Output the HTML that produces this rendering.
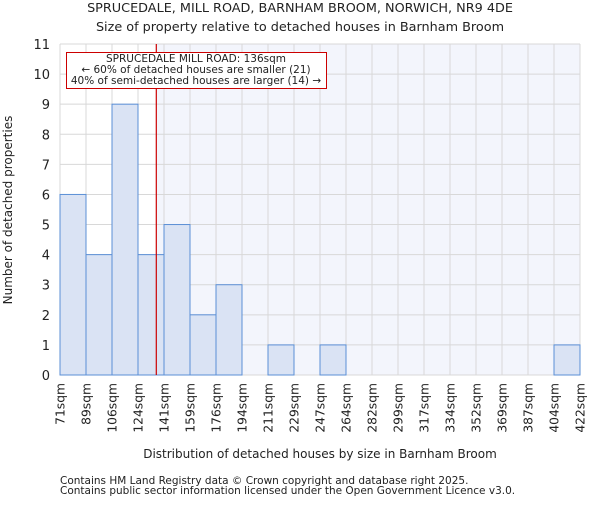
<!DOCTYPE html>
<html><head><meta charset="utf-8"><style>body{margin:0;background:#fff}text{font-family:"DejaVu Sans","Liberation Sans",sans-serif;fill:#222}</style></head>
<body>
<svg id="chart" width="600" height="500" xmlns="http://www.w3.org/2000/svg">
<text x="300" y="12" font-size="12.8" text-anchor="middle">SPRUCEDALE, MILL ROAD, BARNHAM BROOM, NORWICH, NR9 4DE</text>
<text x="300" y="31" font-size="12.8" text-anchor="middle">Size of property relative to detached houses in Barnham Broom</text>
<g id="plot"></g>
<text transform="translate(12,210) rotate(-90)" font-size="12" text-anchor="middle">Number of detached properties</text>
<text x="320" y="458" font-size="12" text-anchor="middle">Distribution of detached houses by size in Barnham Broom</text>
<text x="60" y="484" font-size="10.5">Contains HM Land Registry data © Crown copyright and database right 2025.</text>
<text x="60" y="494" font-size="10.5">Contains public sector information licensed under the Open Government Licence v3.0.</text>
</svg>
<script>
const binLabels=["71sqm","89sqm","106sqm","124sqm","141sqm","159sqm","176sqm","194sqm","211sqm","229sqm","247sqm","264sqm","282sqm","299sqm","317sqm","334sqm","352sqm","369sqm","387sqm","404sqm","422sqm"];
const counts=[6,4,9,4,5,2,3,0,1,0,1,0,0,0,0,0,0,0,0,1];
const yTicks=[0,1,2,3,4,5,6,7,8,9,10,11];
const xMin=71,xMax=422,propertySize=136;
const L=60,R=580,T=44,B=375,yMax=11;
const ns="http://www.w3.org/2000/svg";
const g=document.getElementById('plot');
const bw=(R-L)/counts.length;
const xv=v=>L+(v-xMin)/(xMax-xMin)*(R-L);
const y=v=>B-v/yMax*(B-T);
function mk(t,a,p){const e=document.createElementNS(ns,t);for(const k in a)e.setAttribute(k,a[k]);(p||g).appendChild(e);return e;}
const px=xv(propertySize);
let e=mk('rect',{x:px,y:T,width:R-px,height:B-T,fill:'#f3f5fc'});


for(let i=0;i<=counts.length;i++){e=mk('line',{x1:L+i*bw,x2:L+i*bw,y1:T,y2:B,stroke:'#d8d8d8'});

}
yTicks.forEach(t=>{e=mk('line',{x1:L,x2:R,y1:y(t),y2:y(t),stroke:'#d8d8d8'});


e=mk('text',{x:L-10,y:y(t)+5,'font-size':13,'text-anchor':'end'});e.textContent=t;

});
counts.forEach((c,i)=>{if(!c)return;e=mk('rect',{x:L+i*bw,y:y(c),width:bw,height:B-y(c),fill:'#dae3f4',stroke:'#5b8fd6','stroke-width':1});

});
binLabels.forEach((l,i)=>{const xx=L+i*bw;e=mk('text',{transform:`translate(${xx+4.5},${B+8}) rotate(-90)`,'font-size':12.3,'text-anchor':'end'});e.textContent=l;

});
e=mk('line',{x1:px,x2:px,y1:T,y2:B,stroke:'#cc0000','stroke-width':1.2});


e=mk('rect',{x:66.5,y:52.5,width:260,height:36,fill:'#fff',stroke:'#cc0000'});


["SPRUCEDALE MILL ROAD: "+propertySize+"sqm","← 60% of detached houses are smaller (21)","40% of semi-detached houses are larger (14) →"].forEach((s,i)=>{e=mk('text',{x:196,y:62+i*11,'font-size':10.5,'text-anchor':'middle'});e.textContent=s;

});
</script>
</body></html>
